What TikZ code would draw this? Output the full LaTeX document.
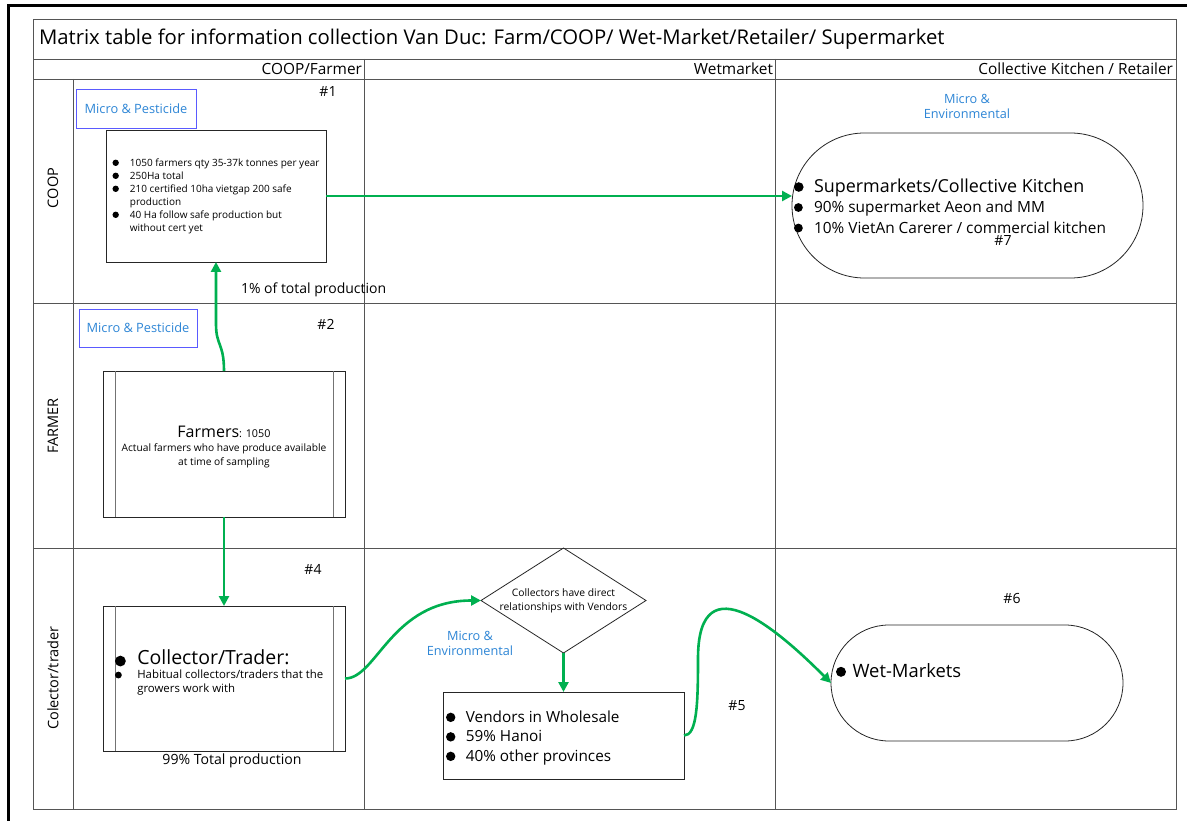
\documentclass[tikz,border=0pt]{standalone}
\usepackage{fontspec}
\setmainfont{Open Sans}
\usetikzlibrary{arrows.meta,shapes.geometric,calc}
\definecolor{flowgreen}{HTML}{00B050}
\definecolor{mblue}{HTML}{2E86D6}
\definecolor{mborder}{HTML}{5A5AFF}
\definecolor{gridc}{HTML}{555555}
\newcommand\fs[2]{\fontsize{#1pt}{#2pt}\selectfont}
\newcommand\bul[1]{\tikz[baseline={([yshift=-0.33em]current bounding box.center)}]\fill[black] (0,0) circle (#1pt);}
\begin{document}
\begin{tikzpicture}[x=1pt,y=-1pt,
  every node/.style={inner sep=0pt,outer sep=0pt},
  gridline/.style={draw=gridc,line width=0.9pt},
  box/.style={draw=black!85,line width=0.8pt,fill=white},
  inner/.style={draw=black!55,line width=0.8pt},
  mbox/.style={draw=mborder,line width=0.8pt,text=mblue,font=\fs{12.8}{15}},
  mtext/.style={text=mblue,font=\fs{12.7}{15},align=center},
  num/.style={font=\fs{14}{16}},
  lane/.style={rotate=90,font=\fs{14.5}{17}},
  head/.style={anchor=east,font=\fs{15.4}{17}},
  flow/.style={draw=flowgreen,line width=2.6pt,-{Triangle[length=10pt,width=10pt]}}]
\useasboundingbox (0,0) rectangle (1187,821);
\fill[white] (0,0) rectangle (1187,821);
% outer frame
\draw[line width=3pt] (8,821) -- (8,6) -- (1187,6);
% table
\draw[gridline] (33,19) rectangle (1176,809);
\draw[gridline] (33,59) -- (1176,59);
\draw[gridline] (33,79) -- (1176,79);
\draw[gridline] (33,303) -- (1176,303);
\draw[gridline] (33,548) -- (1176,548);
\draw[gridline] (73,79) -- (73,809);
\draw[gridline] (364,59) -- (364,809);
\draw[gridline] (775,59) -- (775,809);
% title and headers
\node[anchor=west,font=\fs{20.3}{23}] (title) at (39,39) {Matrix table for information collection Van Duc: Farm/COOP/ Wet-Market/Retailer/ Supermarket};
\node[head] (h1) at (362,69) {COOP/Farmer};
\node[head] (h2) at (773,69) {Wetmarket};
\node[head] (h3) at (1173,69) {Collective Kitchen / Retailer};
% lane labels
\node[lane] (l1) at (53,188) {COOP};
\node[lane] (l2) at (53,426) {FARMER};
\node[lane] (l3) at (53,678) {Colector/trader};
% COOP lane
\node[mbox,minimum width=120,minimum height=39] (mp1) at (136,108.5) {Micro \& Pesticide};
\node[num] (n1) at (328,92) {\#1};
\node[box,minimum width=220,minimum height=132,font=\fs{10}{13}] (coop) at (216,196)
  {\begin{tabular}{@{}l@{\hspace{11pt}}l@{}}
   \bul{3.2} & 1050 farmers qty 35-37k tonnes per year\\
   \bul{3.2} & 250Ha total\\
   \bul{3.2} & 210 certified 10ha vietgap 200 safe\\
             & production\\
   \bul{3.2} & 40 Ha follow safe production but\\
             & without cert yet
   \end{tabular}};
\node[font=\fs{14}{16},anchor=west] (pct1) at (241,290) {1\% of total production};
\node[mtext] (me1) at (967,106) {Micro \&\\Environmental};
\node[draw=black!85,line width=0.8pt,rounded corners=72.5pt,minimum width=351,minimum height=145] (super) at (967.5,205.5) {};
\node[anchor=west,font=\fs{15.4}{20.5}] (suptxt) at (794,208.5)
  {\begin{tabular}{@{}l@{\hspace{10.5pt}}l@{}}
   \bul{4.8} & {\fs{17.9}{20}Supermarkets/Collective Kitchen}\\
   \bul{4.4} & 90\% supermarket Aeon and MM\\
   \bul{4.4} & 10\% VietAn Carerer / commercial kitchen
   \end{tabular}};
\node[num] (n7) at (1003,241) {\#7};
% FARMER lane
\node[mbox,minimum width=118,minimum height=38] (mp2) at (138,328) {Micro \& Pesticide};
\node[num] (n2) at (326,324) {\#2};
\node[box,minimum width=242,minimum height=146] (farm) at (224,444) {};
\node[align=center,font=\fs{10.2}{14}] (farmtxt) at (224,447)
  {{\fs{16}{16}Farmers\fs{10.8}{12}: 1050}\\Actual farmers who have produce available\\at time of sampling};
\draw[inner] ([xshift=12]farm.north west) -- ([xshift=12]farm.south west);
\draw[inner] ([xshift=-12]farm.north east) -- ([xshift=-12]farm.south east);
% Collector lane
\node[num] (n4) at (313,569) {\#4};
\node[box,minimum width=242,minimum height=145] (coll) at (224,678.5) {};
\draw[inner] ([xshift=12]coll.north west) -- ([xshift=12]coll.south west);
\draw[inner] ([xshift=-12]coll.north east) -- ([xshift=-12]coll.south east);
\node[anchor=north west,font=\fs{11.4}{14}] (colltxt) at (115,650)
  {\begin{tabular}{@{}l@{\hspace{11.5pt}}l@{}}
   \bul{5.4} & {\fs{19.5}{21}Collector/Trader:}\\
   \bul{3.4} & Habitual collectors/traders that the\\
           & growers work with
   \end{tabular}};
\node[font=\fs{14.1}{16}] (pct99) at (232,761) {99\% Total production};
\node[mtext] (me2) at (470,643) {Micro \&\\Environmental};
\node[diamond,draw=black!85,line width=0.8pt,aspect=1.57,minimum width=165,minimum height=105] (dia) at (563.5,600.5) {};
\node[font=\fs{10.3}{13.5},align=center] (diatxt) at (563.5,601) {Collectors have direct\\relationships with Vendors};
\node[box,minimum width=241,minimum height=87] (vend) at (563.5,735.5) {};
\node[anchor=west,font=\fs{15.3}{19.5}] (vendtxt) at (446,738)
  {\begin{tabular}{@{}l@{\hspace{10.5pt}}l@{}}
   \bul{4.7} & Vendors in Wholesale\\
   \bul{4.7} & 59\% Hanoi\\
   \bul{4.7} & 40\% other provinces
   \end{tabular}};
\node[num] (n5) at (737,706) {\#5};
\node[num] (n6) at (1012,598) {\#6};
\node[draw=black!85,line width=0.8pt,rounded corners=58pt,minimum width=292,minimum height=116] (wet) at (977,683) {};
\node[anchor=west,font=\fs{18.4}{20}] (wettxt) at (836,671) {\bul{5}\hspace{6.5pt}Wet-Markets};
% connectors
\coordinate (k1) at ($(coop.south)+(0,62)$);
\draw[flow] (farm.north) .. controls +(0,-28) and +(0,22) .. (k1) -- (coop.south);
\draw[flow] (farm.south) -- (coll.north);
\draw[flow] (coop.east) -- (coop.east -| super.west);
\draw[flow] (coll.east) .. controls +(32,0) and +(-90,0) .. (dia.west);
\draw[flow] (dia.south) -- (vend.north);
\coordinate (k2) at ($(vend.east)+(14,-77)$);
\draw[flow] (vend.east) .. controls +(13,0) and +(0,45) .. (k2) .. controls +(0,-100) and +(-50,-50) .. (wet.west);
\end{tikzpicture}
\end{document}
